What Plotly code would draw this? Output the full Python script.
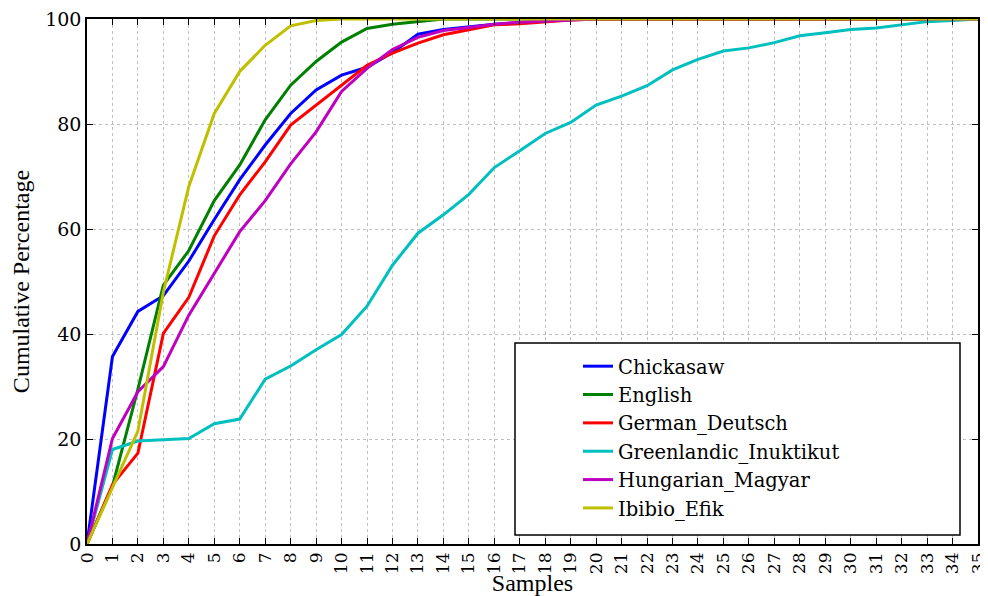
import plotly.graph_objects as go

samples = list(range(0, 36))

chickasaw = [0, 35.7, 44.3, 47.3, 53.9, 61.8, 69.4, 76.0, 82.0, 86.5, 89.3, 90.8, 93.6, 97.1, 98.0, 98.5, 99.0, 99.3, 99.6,
             100, 100, 100, 100, 100, 100, 100, 100, 100, 100, 100, 100, 100, 100, 100, 100, 100]
english = [0, 11.0, 29.5, 49.3, 55.9, 65.4, 72.2, 80.8, 87.4, 91.9, 95.6, 98.2, 99.0, 99.5, 100,
           100, 100, 100, 100, 100, 100, 100, 100, 100, 100, 100, 100, 100, 100, 100, 100, 100, 100, 100, 100, 100]
german = [0, 11.3, 17.3, 40.1, 47.0, 58.7, 66.5, 72.8, 79.8, 83.6, 87.4, 91.2, 93.5, 95.4, 97.0, 98.0, 98.9, 99.1,
          99.5, 99.8, 100, 100, 100, 100, 100, 100, 100, 100, 100, 100, 100, 100, 100, 100, 100, 100]
greenlandic = [0, 18.0, 19.6, 19.8, 20.1, 22.9, 23.8, 31.4, 33.9, 37.0, 39.9, 45.3, 53.1, 59.2, 62.7, 66.6, 71.7, 74.9,
               78.2, 80.3, 83.6, 85.3, 87.3, 90.3, 92.3, 93.9, 94.5, 95.5, 96.8, 97.4, 98.0, 98.3, 98.9, 99.5, 99.7, 100]
hungarian = [0, 20.1, 29.0, 33.8, 43.6, 51.6, 59.5, 65.4, 72.4, 78.5, 86.2, 90.6, 94.2, 96.5, 97.8, 98.4, 99.0, 99.4,
             99.6, 99.8, 100, 100, 100, 100, 100, 100, 100, 100, 100, 100, 100, 100, 100, 100, 100, 100]
ibibio = [0, 10.9, 21.5, 48.0, 68.1, 82.0, 90.0, 95.0, 98.7, 99.7, 100, 100, 100, 100, 100, 100, 100, 100,
          100, 100, 100, 100, 100, 100, 100, 100, 100, 100, 100, 100, 100, 100, 100, 100, 100, 100]

series_names = ["Chickasaw", "English", "German_Deutsch", "Greenlandic_Inuktikut", "Hungarian_Magyar", "Ibibio_Efik"]
series_values = [chickasaw, english, german, greenlandic, hungarian, ibibio]
series_colors = ["#0000ff", "#008000", "#ff0000", "#00bfbf", "#bf00bf", "#bfbf00"]

x_tick_labels = [str(s) for s in samples]
y_ticks = [0, 20, 40, 60, 80, 100]

fig = go.Figure()
for name, vals, col in zip(series_names, series_values, series_colors):
    fig.add_trace(go.Scatter(x=samples, y=vals, mode="lines", name=name,
                             line=dict(color=col, width=3)))

serif = "DejaVu Serif"
OFF = 8  # page body margin offset
W, H = 988 - OFF, 596 - OFF
L, T = 87 - OFF, 19 - OFF
R = W - (978 - OFF)
B = H - (544 - OFF)
pw, ph = W - L - R, H - T - B


def px_x(sx):
    return (sx - OFF - L) / pw


def px_y(sy):
    return (H - B - (sy - OFF)) / ph


fig.update_layout(
    width=W, height=H,
    margin=dict(l=L, r=R, t=T, b=B),
    plot_bgcolor="white", paper_bgcolor="white",
    font=dict(family=serif, color="black"),
    legend=dict(
        x=px_x(578), y=px_y(347), xanchor="left", yanchor="top",
        borderwidth=0,
        font=dict(family=serif, size=19.5, color="black"),
        bgcolor="rgba(0,0,0,0)",
    ),
    shapes=[dict(type="rect", xref="paper", yref="paper",
                 x0=px_x(515), x1=px_x(960), y0=px_y(535), y1=px_y(343),
                 line=dict(color="black", width=1.5), fillcolor="white", layer="above")],
    showlegend=True,
)

fig.update_xaxes(
    range=[0, 35], tickmode="array", tickvals=samples, ticktext=x_tick_labels,
    tickangle=-90, tickfont=dict(family=serif, size=17), ticklabeloverflow="allow",
    ticks="inside", ticklen=6, tickcolor="black", tickwidth=1,
    showline=True, linecolor="black", linewidth=1.5, mirror="allticks",
    showgrid=True, gridcolor="#c0c0c0", griddash="dot", gridwidth=1,
    zeroline=False, automargin=False,
    title=dict(text="Samples", font=dict(family="Liberation Serif", size=24), standoff=2),
)
fig.update_yaxes(
    range=[0, 100], tickmode="array", tickvals=y_ticks,
    tickfont=dict(family=serif, size=19), ticklabeloverflow="allow",
    ticks="inside", ticklen=6, tickcolor="black", tickwidth=1,
    showline=True, linecolor="black", linewidth=1.5, mirror="allticks",
    showgrid=True, gridcolor="#c0c0c0", griddash="dot", gridwidth=1,
    zeroline=False, automargin=False,
    title=dict(text="Cumulative Percentage", font=dict(family="Liberation Serif", size=24), standoff=20),
)

fig.write_html("out.html")
